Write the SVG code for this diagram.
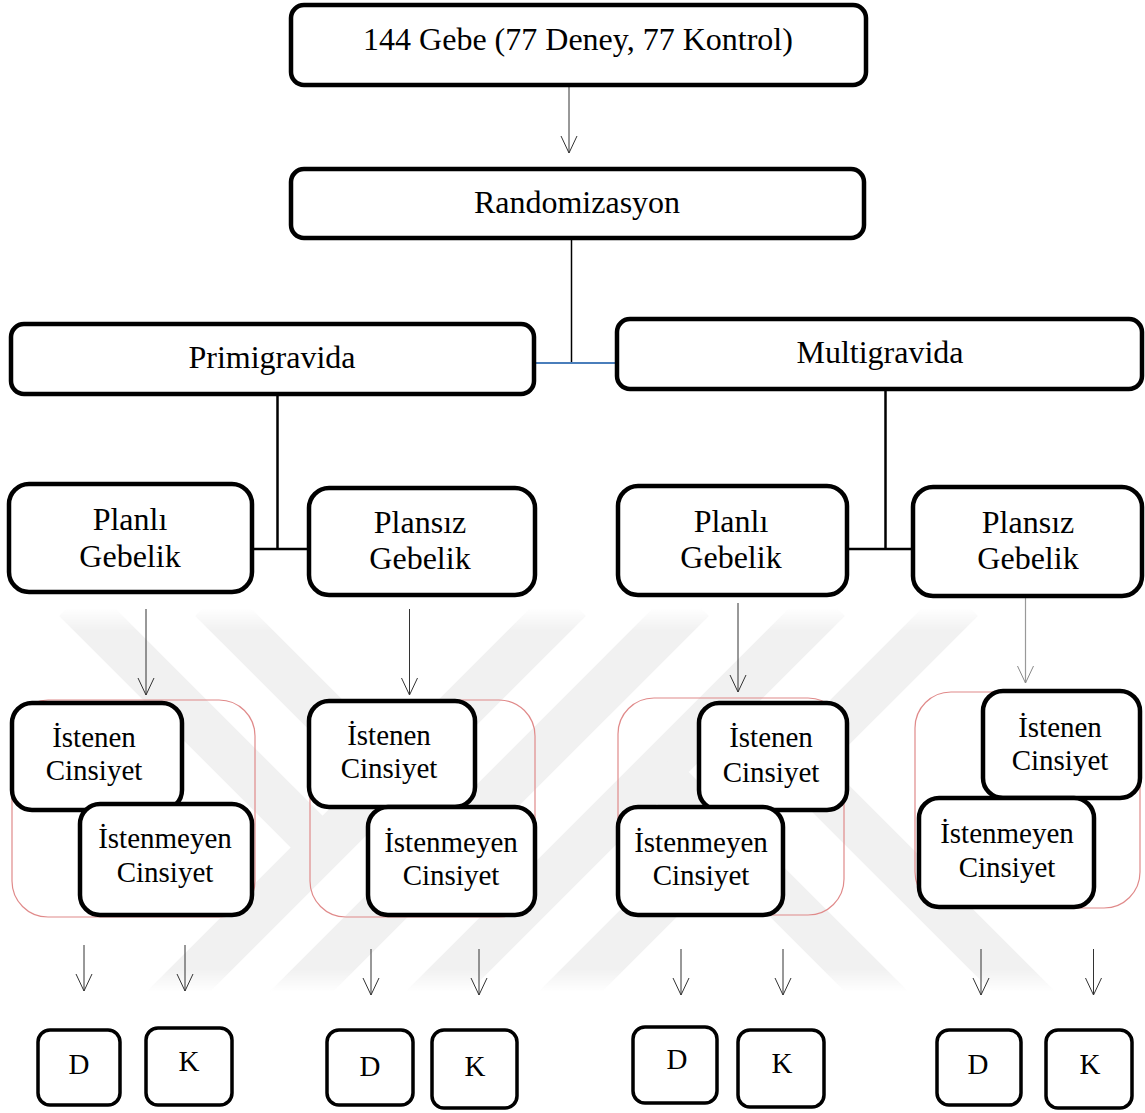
<svg xmlns="http://www.w3.org/2000/svg" width="1145" height="1113" viewBox="0 0 1145 1113">
<style>
.box{fill:#fff;stroke:#000;stroke-width:4.5}
.sm{fill:#fff;stroke:#000;stroke-width:3.5}
.grp{fill:none;stroke:#e08a8a;stroke-width:1.2}
.t{font-family:"Liberation Serif","Times New Roman",serif;font-size:32px;fill:#000;text-anchor:middle}
.t2{font-family:"Liberation Serif","Times New Roman",serif;font-size:29px;fill:#000;text-anchor:middle}
.t3{font-family:"Liberation Serif","Times New Roman",serif;font-size:29px;fill:#000;text-anchor:middle}
.arr{stroke:#333;stroke-width:1;fill:none;marker-end:url(#ah)}
.arrg{stroke:#999;stroke-width:1.2;fill:none;marker-end:url(#ahg)}
.ln{stroke:#000;stroke-width:1.5;fill:none}
.ln2{stroke:#000;stroke-width:2.5;fill:none}
.wm{stroke:#f1f1f1;stroke-width:45;fill:none}
</style>
<defs>
<marker id="ah" markerUnits="userSpaceOnUse" markerWidth="22" markerHeight="22" viewBox="-20 -11 22 22" refX="0" refY="0" orient="auto">
<path d="M-17,-8 L0,0 L-17,8" fill="none" stroke="#333" stroke-width="1"/>
</marker>
<marker id="ahg" markerUnits="userSpaceOnUse" markerWidth="22" markerHeight="22" viewBox="-20 -11 22 22" refX="0" refY="0" orient="auto">
<path d="M-17,-8 L0,0 L-17,8" fill="none" stroke="#888" stroke-width="1"/>
</marker>
<linearGradient id="wmfade" gradientUnits="userSpaceOnUse" x1="0" y1="608" x2="0" y2="992">
<stop offset="0" stop-color="#fff" stop-opacity="0"/>
<stop offset="0.06" stop-color="#fff" stop-opacity="1"/>
<stop offset="0.94" stop-color="#fff" stop-opacity="1"/>
<stop offset="1" stop-color="#fff" stop-opacity="0"/>
</linearGradient>
<mask id="wmmask" maskUnits="userSpaceOnUse" x="0" y="0" width="1145" height="1113"><rect x="0" y="608" width="1145" height="384" fill="url(#wmfade)"/></mask>
</defs>
<rect width="1145" height="1113" fill="#fff"/>
<g id="watermark" mask="url(#wmmask)">
<path class="wm" d="M75,600 L322,847"/>
<path class="wm" d="M211,600 L452,841"/>
<path class="wm" d="M570,600 L140,1030"/>
<path class="wm" d="M693,600 L263,1030"/>
<path class="wm" d="M829,600 L399,1030"/>
<path class="wm" d="M962,600 L532,1030"/>
<path class="wm" d="M657,772 L915,1030"/>
<path class="wm" d="M797,765 L1062,1030"/>
</g>
<g id="connectors">
<line class="arr" x1="569" y1="87" x2="569" y2="153"/>
<line class="ln" x1="571.5" y1="238" x2="571.5" y2="363"/>
<line x1="535" y1="363" x2="617" y2="363" stroke="#4a7ebb" stroke-width="2"/>
<line class="ln2" x1="277.5" y1="394" x2="277.5" y2="549"/>
<line class="ln2" x1="252" y1="549" x2="309" y2="549"/>
<line class="ln2" x1="885.5" y1="389" x2="885.5" y2="549"/>
<line class="ln2" x1="847" y1="549" x2="913" y2="549"/>
<line class="arr" x1="146" y1="609" x2="146" y2="695"/>
<line class="arr" x1="409.5" y1="609" x2="409.5" y2="695"/>
<line class="arr" x1="738" y1="603" x2="738" y2="692"/>
<line class="arrg" x1="1025.5" y1="598" x2="1025.5" y2="683"/>
<line class="arr" x1="84" y1="945" x2="84" y2="991"/>
<line class="arr" x1="185" y1="945" x2="185" y2="991"/>
<line class="arr" x1="371" y1="949" x2="371" y2="995"/>
<line class="arr" x1="479" y1="949" x2="479" y2="995"/>
<line class="arr" x1="681" y1="949" x2="681" y2="995"/>
<line class="arr" x1="783" y1="949" x2="783" y2="995"/>
<line class="arr" x1="981" y1="949" x2="981" y2="995"/>
<line class="arr" x1="1093.5" y1="949" x2="1093.5" y2="995"/>
</g>
<g id="n-gebe"><rect class="box" x="291" y="5" width="575" height="80" rx="13"/><text class="t" x="578" y="50">144 Gebe (77 Deney, 77 Kontrol)</text></g>
<g id="n-random"><rect class="box" x="291" y="169" width="573" height="69" rx="13"/><text class="t" x="577" y="213">Randomizasyon</text></g>
<g id="n-primi"><rect class="box" x="11" y="324" width="523" height="70" rx="13"/><text class="t" x="272" y="368">Primigravida</text></g>
<g id="n-multi"><rect class="box" x="617" y="319" width="525" height="70" rx="13"/><text class="t" x="880" y="363">Multigravida</text></g>
<g id="n-planli1"><rect class="box" x="9" y="484" width="243" height="108" rx="20"/><text class="t" x="130" y="530">Planlı</text><text class="t" x="130" y="567">Gebelik</text></g>
<g id="n-plansiz1"><rect class="box" x="309" y="488" width="226" height="107" rx="20"/><text class="t" x="420" y="533">Plansız</text><text class="t" x="420" y="569">Gebelik</text></g>
<g id="n-planli2"><rect class="box" x="618" y="486" width="229" height="109" rx="20"/><text class="t" x="731" y="532">Planlı</text><text class="t" x="731" y="568">Gebelik</text></g>
<g id="n-plansiz2"><rect class="box" x="913" y="487" width="229" height="109" rx="20"/><text class="t" x="1028" y="533">Plansız</text><text class="t" x="1028" y="569">Gebelik</text></g>
<g id="g-c1"><rect class="grp" x="12" y="700" width="243" height="217" rx="36"/></g>
<g id="g-c2"><rect class="grp" x="310" y="700" width="225" height="217" rx="36"/></g>
<g id="g-c3"><rect class="grp" x="618" y="698" width="226" height="217" rx="36"/></g>
<g id="g-c4"><rect class="grp" x="915" y="692" width="225" height="216" rx="36"/></g>
<g id="n-ist1"><rect class="box" x="12" y="703" width="170" height="107" rx="20"/><text class="t2" x="94" y="747">İstenen</text><text class="t2" x="94" y="780">Cinsiyet</text></g>
<g id="n-istm1"><rect class="box" x="80" y="804" width="172" height="111" rx="20"/><text class="t2" x="165" y="848">İstenmeyen</text><text class="t2" x="165" y="882">Cinsiyet</text></g>
<g id="n-ist2"><rect class="box" x="309" y="701" width="166" height="106" rx="20"/><text class="t2" x="389" y="745">İstenen</text><text class="t2" x="389" y="778">Cinsiyet</text></g>
<g id="n-istm2"><rect class="box" x="368" y="807" width="167" height="108" rx="20"/><text class="t2" x="451" y="852">İstenmeyen</text><text class="t2" x="451" y="885">Cinsiyet</text></g>
<g id="n-ist3"><rect class="box" x="699" y="703" width="148" height="107" rx="20"/><text class="t2" x="771" y="747">İstenen</text><text class="t2" x="771" y="782">Cinsiyet</text></g>
<g id="n-istm3"><rect class="box" x="618" y="807" width="165" height="108" rx="20"/><text class="t2" x="701" y="852">İstenmeyen</text><text class="t2" x="701" y="885">Cinsiyet</text></g>
<g id="n-ist4"><rect class="box" x="983" y="691" width="157" height="107" rx="20"/><text class="t2" x="1060" y="737">İstenen</text><text class="t2" x="1060" y="770">Cinsiyet</text></g>
<g id="n-istm4"><rect class="box" x="919" y="798" width="175" height="109" rx="20"/><text class="t2" x="1007" y="843">İstenmeyen</text><text class="t2" x="1007" y="877">Cinsiyet</text></g>
<g id="n-d1"><rect class="sm" x="38" y="1030" width="82" height="75" rx="12"/><text class="t3" x="79" y="1074">D</text></g>
<g id="n-k1"><rect class="sm" x="146" y="1028" width="86" height="77" rx="12"/><text class="t3" x="189" y="1071">K</text></g>
<g id="n-d2"><rect class="sm" x="327" y="1030" width="86" height="75" rx="12"/><text class="t3" x="370" y="1076">D</text></g>
<g id="n-k2"><rect class="sm" x="432" y="1030" width="85" height="78" rx="12"/><text class="t3" x="475" y="1076">K</text></g>
<g id="n-d3"><rect class="sm" x="633" y="1027" width="84" height="76" rx="12"/><text class="t3" x="677" y="1069">D</text></g>
<g id="n-k3"><rect class="sm" x="738" y="1030" width="86" height="77" rx="12"/><text class="t3" x="782" y="1073">K</text></g>
<g id="n-d4"><rect class="sm" x="937" y="1030" width="84" height="75" rx="12"/><text class="t3" x="978" y="1074">D</text></g>
<g id="n-k4"><rect class="sm" x="1046" y="1030" width="86" height="78" rx="12"/><text class="t3" x="1090" y="1074">K</text></g>
</svg>
